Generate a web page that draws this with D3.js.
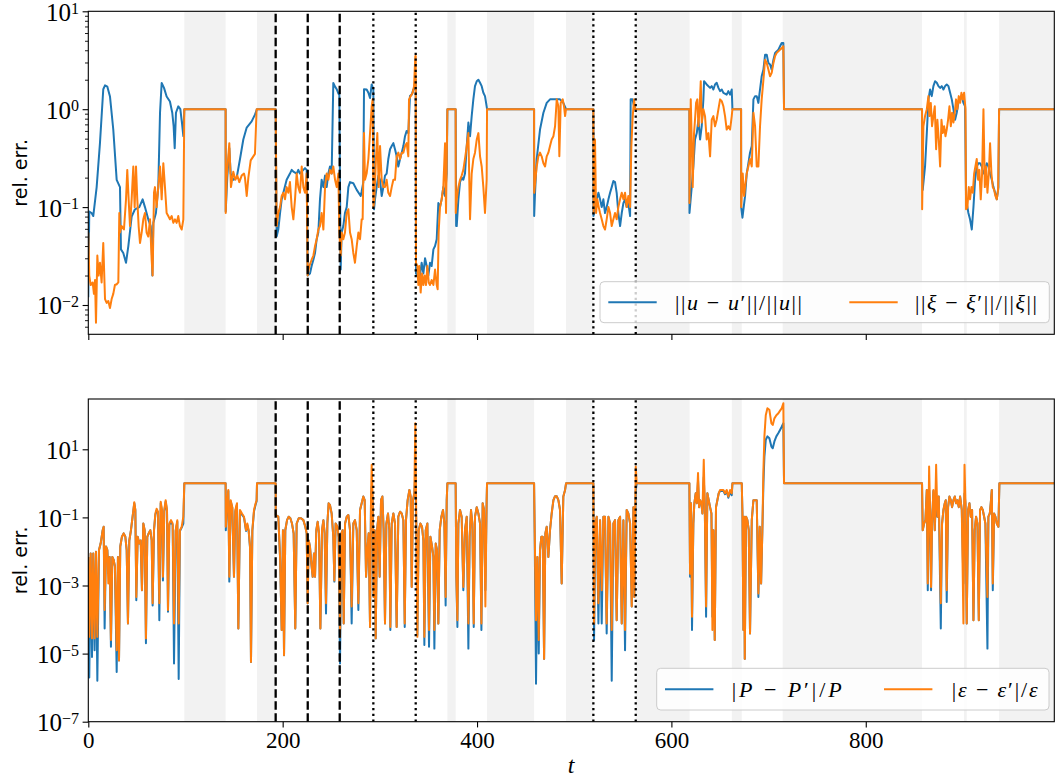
<!DOCTYPE html>
<html>
<head>
<meta charset="utf-8">
<script src="https://cdn.jsdelivr.net/npm/d3@7"></script>
<style>
  body { margin: 0; background: #fff; }
  svg { display: block; }
</style>
</head>
<body>
<script>
// ---- data ----
var shadedSpans = [[98.8,141.3],[173.6,192.8],[369.5,378.0],[410.3,458.7],[491.6,519.7],[563.3,618.7],[662.2,672.4],[714.5,857.9],[901.1,903.9],[937.2,994]];
var dashedT = [192.8, 225.8, 258.7];
var dottedT = [293.3, 336.9, 519.7, 563.3];
var xTicks = [0, 200, 400, 600, 800];
var topExps = [-2, -1, 0, 1];
var bottomExps = [-7, -5, -3, -1, 1];

// ||u - u'|| / ||u||   [t, value]
var uErr = [[0,0.012],[1,0.09],[3.4,0.087],[5.1,0.081],[8.6,0.16],[12,0.45],[15.4,1.6],[17.2,1.75],[19.6,1.7],[22.3,1.35],[25.7,0.62],[29.2,0.19],[32.6,0.16],[33.6,0.037],[36,0.034],[38.8,0.027],[41.2,0.04],[44.6,0.08],[48,0.095],[52.5,0.1],[55.9,0.12],[58.3,0.1],[61.7,0.075],[64.2,0.064],[65.2,0.047],[65.9,0.02],[66.9,0.069],[69.6,0.087],[72,0.16],[73.8,0.92],[75.5,1.85],[77.9,1.65],[80.6,1.35],[84,1.2],[86.4,0.92],[87.8,0.67],[88.9,0.4],[90.2,0.92],[92.6,1.07],[94.7,1.0],[96.4,0.72],[97.8,0.53],[98.8,1],[141.3,1],
[141.4,0.09],[143,0.2],[145.1,0.4],[146.5,0.22],[149.2,0.19],[152.7,0.2],[156.1,0.31],[159.5,0.49],[163,0.65],[168.1,0.75],[171.5,0.88],[173.6,1],[192.8,1],
[193.8,0.05],[195.5,0.059],[197.3,0.087],[199,0.12],[200.7,0.14],[204.1,0.19],[207.5,0.22],[209.3,0.24],[211,0.23],[214.4,0.22],[216.1,0.24],[217.8,0.22],[219.6,0.23],[221.3,0.24],[223,0.25],[224.7,0.24],[225.7,0.02],[228.1,0.021],[229.8,0.025],[231.6,0.029],[233.3,0.034],[235,0.047],[236.7,0.055],[238.4,0.12],[240.1,0.19],[241.9,0.16],[243.6,0.21],[245.3,0.16],[247,0.22],[248.7,0.26],[250.4,0.22],[252.1,1.85],[253.9,1.7],[255.6,1.6],[257.3,1.45],[258.3,1.4],[259.7,0.023],[260.7,0.055],[262.4,0.064],[264.1,0.087],[265.9,0.1],[267.6,0.16],[269.3,0.18],[272.7,0.175],[276.2,0.15],[280.3,0.13],[281.3,0.145],[283,0.18],[283.7,1.6],[286.4,1.59],[288.2,1.47],[289.9,1.3],[291.6,1.79],[293.3,1.6],[294,0.095],[295,0.12],[296.7,0.16],[298.5,0.21],[300.2,0.19],[301.9,0.13],[303.6,0.16],[305.3,0.21],[307,0.22],[308.7,0.31],[310.5,0.39],[312.2,0.42],[313.9,0.45],[315.6,0.39],[317.3,0.33],[319,0.26],[320.8,0.31],[322.5,0.36],[324.2,0.42],[325.9,0.53],[327.6,0.6],[329.3,0.57],[331,1.36],[332.8,1.41],[334.5,1.59],[335.2,1.6],[336.9,2.0],[337.2,0.021],[338.6,0.02],[341.3,0.02],[343,0.027],[344.8,0.021],[346.5,0.03],[348.2,0.025],[349.9,0.02],[351.6,0.027],[353.3,0.025],[355.1,0.037],[356.8,0.04],[358.5,0.047],[360.2,0.11],[361.9,0.1],[363.6,0.12],[365.3,0.16],[367.1,0.13],[368.8,0.22],[369.5,1],[378,1],
[378.5,0.064],[379.1,0.064],[380.8,0.12],[382.5,0.18],[384.2,0.2],[385.9,0.19],[387.6,0.22],[389.4,0.42],[391.1,0.73],[392.8,0.53],[394.5,0.85],[396.2,1.26],[397.9,1.72],[399.7,1.93],[401.4,2.0],[403.1,1.86],[404.8,1.72],[406.5,1.47],[408.2,1.36],[409.9,1.07],[410.3,1],[458.7,1],
[458.8,0.081],[459.7,0.14],[461.4,0.31],[464.8,0.62],[468.3,0.92],[471.7,1.16],[475.1,1.26],[478.6,1.26],[482,1.26],[485.4,1.26],[488.8,1.16],[491.6,1],[519.7,1],
[519.8,0.081],[521.4,0.095],[523.2,0.12],[524.9,0.14],[526.6,0.12],[528.3,0.1],[530,0.12],[531.7,0.087],[533.4,0.1],[535.2,0.12],[536.9,0.14],[538.6,0.16],[540.3,0.185],[542,0.18],[543.7,0.14],[545.4,0.087],[547.2,0.064],[548.9,0.087],[550.6,0.11],[552.3,0.12],[554,0.1],[555.7,0.11],[557.5,0.081],[558.1,1.26],[559.9,1.26],[561.6,1.07],[563.3,1],[618.5,1],
[618.6,0.087],[620.9,0.16],[622.6,0.26],[624.3,0.49],[626.1,0.57],[627.8,0.78],[629.5,0.49],[631.2,0.67],[632.9,1.26],[633.6,1.93],[636.3,1.79],[639.8,1.65],[641.5,1.72],[643.2,1.59],[644.9,1.79],[646.6,1.86],[648.4,1.65],[650.1,1.53],[651.8,1.59],[653.5,1.47],[656.9,1.41],[658.6,1.53],[660.4,1.41],[662.1,1.59],[662.8,1],[671.7,1],
[671.8,0.1],[673.1,0.078],[675.8,0.13],[677.5,0.22],[679.2,0.28],[680.9,0.36],[682.7,0.42],[684.4,1.26],[686.1,1.36],[687.8,1.36],[689.5,1.16],[691.2,1.59],[692.9,2.17],[694.7,2.54],[696.4,3.6],[698.1,3.6],[699.8,2.97],[701.5,2.86],[703.2,2.54],[705,3.2],[706.7,3.76],[708.4,3.9],[710.1,4.06],[711.8,4.4],[713.5,4.75],[715.2,4.75],[715.9,1],[857.9,1],
[858.6,0.15],[861,0.26],[862.8,0.57],[864.5,1.26],[866.2,1.59],[867.9,1.36],[869.6,1.72],[871.3,1.93],[873.1,1.86],[874.8,1.72],[876.5,1.65],[878.2,1.72],[879.9,1.59],[881.6,1.72],[883.3,1.79],[885.1,1.72],[886.8,1.47],[888.5,1.26],[890.2,1.0],[891.9,0.78],[893.6,0.92],[895.3,1.16],[897.1,1.26],[898.8,1.36],[900.5,1.16],[902.2,1.07],[903.2,0.12],[905.6,0.087],[907.3,0.075],[909.1,0.059],[910.8,0.1],[912.5,0.19],[914.2,0.26],[915.9,0.28],[917.6,0.28],[919.4,0.26],[921.1,0.22],[922.8,0.24],[924.5,0.28],[926.2,0.26],[927.9,0.22],[929.7,0.19],[931.4,0.16],[933.1,0.14],[934.8,0.12],[936.5,0.16],[937.2,1],[994,1]];

// ||xi - xi'|| / ||xi||   [t, value]
var xiErr = [[0,0.055],[1,0.02],[2.4,0.016],[4.5,0.017],[5.8,0.013],[6.9,0.018],[7.9,0.0066],[9.3,0.032],[10.6,0.02],[12,0.027],[13.7,0.017],[15.4,0.043],[17.2,0.0115],[18.9,0.0105],[20.6,0.011],[22.3,0.0093],[24,0.0115],[25.7,0.013],[27.4,0.016],[29.2,0.0163],[30.9,0.017],[31.9,0.087],[32.6,0.055],[34.3,0.064],[36.7,0.059],[38.8,0.12],[40.1,0.24],[41.5,0.12],[42.9,0.064],[44.6,0.12],[46.3,0.26],[47.7,0.1],[49.1,0.26],[50.4,0.12],[51.8,0.064],[53.2,0.043],[54.9,0.055],[56.6,0.075],[58.3,0.087],[60,0.055],[61.7,0.05],[63.5,0.075],[65.2,0.029],[66.2,0.02],[67.6,0.14],[68.6,0.16],[70.3,0.1],[72,0.16],[73.8,0.26],[75.5,0.12],[77.2,0.28],[78.9,0.16],[80.6,0.087],[82.3,0.081],[84,0.075],[85.8,0.081],[87.5,0.069],[89.2,0.075],[90.9,0.069],[92.6,0.081],[94.3,0.064],[96.1,0.059],[97.8,0.075],[98.8,1],[141.3,1],
[141.4,0.087],[142.4,0.2],[145.1,0.45],[146.8,0.16],[149.2,0.23],[151.3,0.19],[153.3,0.21],[155.4,0.18],[157.8,0.21],[160.2,0.22],[161.2,0.2],[163,0.13],[164.7,0.2],[167.1,0.3],[169.8,0.33],[171.5,0.35],[173.2,1],[192.8,1],
[193.8,0.064],[195.5,0.087],[197.3,0.1],[199,0.13],[200.7,0.14],[202.4,0.12],[204.1,0.16],[205.8,0.14],[207.5,0.18],[209.3,0.1],[211,0.075],[212.7,0.12],[214.4,0.22],[216.1,0.16],[217.8,0.14],[219.6,0.26],[221.3,0.16],[223,0.14],[224.7,0.22],[225.7,0.02],[227.4,0.025],[229.8,0.029],[231.6,0.032],[233.3,0.04],[235,0.047],[236.7,0.059],[238.4,0.064],[240.1,0.087],[241.9,0.059],[243.6,0.16],[245.3,0.22],[247,0.19],[248.7,0.24],[250.4,0.22],[252.1,0.26],[253.9,0.19],[255.6,0.16],[257.3,0.22],[258.3,0.055],[259.7,0.032],[260.7,0.055],[262.4,0.047],[264.1,0.055],[265.9,0.087],[267.6,0.095],[269.3,0.055],[271,0.047],[272.7,0.034],[274.4,0.027],[276.2,0.04],[277.9,0.055],[279.6,0.047],[281.3,0.075],[282.3,0.075],[283.7,0.57],[284.7,0.19],[286.4,0.22],[288.2,0.31],[289.9,0.57],[291.6,1.07],[292.6,1.26],[293.4,0.1],[294.3,0.12],[296,0.31],[297.4,0.57],[298.8,0.16],[300.2,0.42],[301.9,0.19],[303.6,0.16],[305.3,0.16],[307,0.19],[308.7,0.14],[310.5,0.13],[312.2,0.16],[313.9,0.19],[315.6,0.19],[317.3,0.33],[319,0.36],[320.8,0.31],[322.5,0.36],[324.2,0.36],[325.9,0.42],[327.6,0.45],[329.3,0.33],[330,1.26],[331.7,1.36],[333.8,1.47],[335.2,1.72],[336.5,3.5],[336.9,3.5],[337.2,0.027],[338.6,0.025],[339.6,0.016],[340.6,0.025],[342,0.0134],[343.4,0.021],[344.8,0.016],[346.1,0.02],[347.5,0.016],[348.9,0.025],[350.3,0.017],[351.6,0.016],[353.3,0.018],[355.1,0.016],[356.8,0.023],[358.5,0.016],[359.5,0.0145],[360.5,0.055],[361.9,0.1],[363.6,0.12],[365.3,0.16],[367.1,0.45],[368.1,0.087],[369.5,1],[378,1],
[378.1,0.087],[379.1,0.12],[380.8,0.16],[382.5,0.19],[384.2,0.21],[385.9,0.24],[387.6,0.31],[389.4,0.42],[391.1,0.57],[392.8,0.075],[394.5,0.22],[396.2,0.31],[397.9,0.36],[399.7,0.49],[401.4,0.57],[403.1,0.33],[404.8,0.26],[406.5,0.16],[408.2,0.087],[409.9,0.19],[410.3,1],[458.7,1],
[458.8,0.14],[461.4,0.26],[463.1,0.33],[464.8,0.36],[466.5,0.33],[468.3,0.28],[470,0.26],[471.7,0.33],[473.4,0.36],[475.1,0.42],[476.8,0.49],[478.6,0.53],[480.3,0.67],[482,1.26],[483.7,1.07],[484.7,0.33],[486.1,1.16],[488.2,1.26],[489.5,1.07],[490.6,0.85],[491.6,1],[519.7,1],
[520,0.087],[521.4,0.49],[522.5,0.087],[523.8,0.12],[525.2,0.1],[526.6,0.087],[528.3,0.075],[530,0.064],[531.7,0.059],[533.4,0.075],[535.2,0.1],[536.9,0.087],[538.6,0.064],[540.3,0.075],[542,0.087],[543.7,0.075],[545.4,0.1],[547.2,0.12],[548.9,0.14],[550.6,0.12],[552.3,0.14],[554,0.1],[555.7,0.13],[557.5,0.1],[558.8,0.42],[560.2,0.85],[561.6,1.26],[562.6,1],[618.5,1],
[618.6,0.11],[619.9,1.26],[620.9,0.49],[621.9,0.16],[623.3,0.57],[624.3,0.78],[625.4,1.16],[626.7,1.26],[627.8,0.67],[628.8,0.92],[630.2,1.93],[631.2,0.73],[632.9,1.0],[634.6,0.85],[636.3,0.49],[638.1,0.57],[639.8,0.33],[641.5,0.78],[643.2,0.85],[644.9,0.67],[646.6,0.78],[648.4,1.0],[650.1,1.26],[651.8,1.21],[653.5,1.07],[655.2,0.85],[656.9,0.62],[658.6,0.67],[660.4,0.62],[662.1,0.85],[662.8,1],[671.7,1],
[671.8,0.1],[673.4,0.22],[674.8,0.13],[675.8,0.16],[677.5,0.22],[679.2,0.26],[680.9,0.31],[682.7,0.26],[684.4,0.92],[686.1,0.67],[687.8,0.26],[689.5,0.26],[691.2,0.67],[692.9,1.26],[694.7,2.0],[696.4,3.2],[698.1,2.97],[699.8,2.54],[701.5,2.17],[703.2,2.35],[705,2.97],[706.7,3.5],[708.4,3.76],[710.1,3.9],[711.8,4.06],[713.5,4.2],[715.2,4.4],[715.9,1],[857.9,1],
[858,0.095],[859.3,0.67],[861,0.85],[862.8,1.0],[864.5,1.36],[865.5,0.85],[866.9,1.16],[868.2,0.67],[869.6,0.85],[871,1.07],[872.4,0.39],[873.7,0.78],[875.1,0.49],[876.5,0.26],[877.9,0.78],[879.2,0.57],[880.6,0.67],[882,0.53],[883.3,0.62],[884.7,0.78],[886.1,1.07],[887.5,0.67],[888.8,0.92],[890.2,0.73],[891.6,0.92],[892.9,1.26],[894.3,1.0],[895.7,1.36],[897.1,1.16],[898.4,1.47],[899.8,1.26],[901.2,1.47],[902.6,1.0],[903.2,0.095],[904.6,0.1],[906,0.16],[907.3,0.12],[908.7,0.16],[910.1,0.14],[911.5,0.22],[912.8,0.26],[914.2,0.31],[915.6,0.19],[916.9,0.24],[918.3,0.12],[919.7,0.22],[921.1,1.0],[922.5,0.16],[923.8,0.26],[925.2,0.14],[926.6,0.22],[927.9,0.45],[929.3,0.22],[930.7,0.16],[932.1,0.15],[933.4,0.13],[934.8,0.12],[936.2,0.15],[937.2,1],[994,1]];

// |P - P'| / P   [t, value]
var pErr = [[0,0.0069],[1.0,2e-6],[2.4,0.0087],[3.8,8e-6],[5.1,0.0087],[6.5,1.26e-5],[7.9,0.0098],[9.3,1.6e-6],[11.0,0.011],[12.7,0.017],[14.8,0.042],[15.8,0.053],[16.8,5.5e-5],[18.2,0.014],[19.6,0.011],[20.6,0.0028],[22.0,0.0069],[23.3,1.6e-5],[24.7,0.0069],[26.1,0.0056],[27.4,0.0036],[29.2,2.9e-6],[30.5,0.0069],[31.6,6.3e-6],[32.9,0.014],[34.6,0.027],[36.4,0.034],[38.1,0.027],[39.5,0.011],[40.8,7.6e-5],[42.2,0.021],[43.9,0.042],[45.6,0.105],[47.3,0.26],[48.4,0.165],[49.4,3.7e-4],[50.8,0.027],[52.5,0.017],[53.9,0.021],[55.2,7.3e-4],[56.6,0.066],[58.0,0.042],[59.3,2e-5],[60.7,0.027],[62.1,0.034],[63.8,0.042],[65.2,0.021],[66.2,2.6e-4],[67.6,0.042],[69.0,0.12],[70.3,0.16],[71.7,0.14],[73.1,9.5e-5],[74.5,0.26],[75.8,0.15],[76.8,0.0014],[78.2,0.15],[79.6,0.29],[81.0,0.15],[82.0,1.7e-4],[83.4,0.06],[85.1,0.075],[86.8,0.06],[88.2,5.1e-6],[89.9,0.04],[91.6,0.075],[93.0,1.8e-6],[94.3,0.04],[96.1,0.05],[97.8,0.066],[98.8,1],[141.3,1],
[141.5,0.042],[142.4,0.15],[144.1,0.6],[145.1,0.0013],[146.5,0.3],[148.2,0.19],[149.9,0.0018],[151.3,0.15],[153.0,0.24],[154.4,5.5e-5],[156.1,0.15],[158.1,0.12],[160.2,0.1],[162.3,0.04],[163.6,0.06],[165.0,0.04],[166.4,0.013],[167.4,5.7e-6],[168.8,0.04],[170.5,0.15],[172.2,0.24],[173.2,0.3],[173.6,1],[192.8,1],
[192.9,0.117],[195.5,0.105],[197.3,0.0069],[199.0,4.9e-5],[200.3,0.042],[201.4,9e-6],[202.7,0.042],[204.5,0.083],[206.2,0.105],[207.9,0.094],[209.6,0.066],[211.3,0.034],[213.0,5.5e-5],[214.4,0.066],[216.5,0.094],[218.9,0.094],[221.3,0.083],[223.3,0.053],[224.7,0.034],[225.7,3e-4],[226.8,0.021],[228.1,0.014],[229.5,0.0044],[230.9,0.0018],[232.2,0.0087],[233.3,0.0018],[234.6,0.042],[236.0,0.074],[237.4,0.034],[238.8,5.5e-5],[240.5,0.042],[241.9,0.083],[243.2,0.034],[244.6,1.5e-4],[246.0,0.066],[247.3,0.26],[248.7,0.23],[250.4,0.13],[252.1,0.027],[253.2,0.0013],[254.5,0.066],[256.3,0.053],[257.6,0.027],[259.0,5.1e-6],[260.4,0.034],[261.7,0.042],[262.8,7.6e-5],[264.2,0.066],[265.9,0.105],[267.6,0.117],[269.3,0.042],[271.0,7.6e-5],[272.7,0.066],[274.4,0.083],[276.2,0.042],[277.9,1.9e-4],[279.6,0.165],[281.3,0.26],[283.0,0.41],[284.4,0.32],[285.8,0.0018],[287.1,0.011],[288.5,0.034],[289.9,6e-5],[290.9,0.32],[291.6,0.8],[292.6,0.32],[293.6,4.6e-4],[294.7,0.042],[295.7,2.8e-5],[297.1,0.042],[298.5,0.105],[299.8,0.0018],[301.2,0.32],[302.6,0.41],[303.9,0.042],[305.3,7.6e-5],[306.7,0.066],[308.4,0.13],[309.8,0.042],[310.8,4.9e-5],[312.2,0.066],[313.9,0.13],[315.6,0.066],[317.3,6e-5],[319.0,0.105],[320.8,0.147],[322.5,0.13],[324.2,0.083],[325.6,6e-5],[326.9,0.083],[328.6,0.32],[330.4,0.64],[331.7,0.41],[332.8,9.1e-4],[334.1,0.32],[335.5,0.51],[336.5,2.0],[337.6,0.042],[338.6,3.5e-5],[340.0,0.042],[341.7,0.066],[343.4,0.053],[344.8,0.021],[345.8,1.8e-5],[347.2,0.042],[348.9,0.066],[350.6,1.6e-5],[352.0,0.027],[353.7,0.014],[355.1,0.0069],[356.1,1.4e-5],[357.5,0.017],[358.8,0.011],[360.2,7.6e-5],[361.6,0.042],[363.3,0.105],[365.0,0.165],[366.4,0.066],[367.7,2.6e-4],[368.8,0.32],[369.5,1],[378.0,1],
[378.7,0.0018],[379.8,6e-5],[380.8,0.066],[382.5,0.165],[384.2,0.105],[385.9,7.3e-4],[387.6,0.042],[389.4,0.105],[391.1,1.4e-5],[392.4,0.027],[393.8,0.165],[395.2,0.066],[396.6,6e-5],[397.9,0.105],[399.7,0.2],[401.4,0.13],[403.1,0.066],[404.5,4.9e-5],[405.8,0.26],[407.2,0.165],[408.6,7.3e-4],[409.9,0.32],[410.3,1],[458.7,1],
[459.3,0.034],[460.7,1.3e-6],[462.1,0.0069],[463.5,1e-5],[464.8,0.011],[466.2,0.027],[467.6,0.027],[469.0,7e-6],[470.3,0.034],[471.7,0.053],[473.4,0.0069],[475.1,0.042],[476.8,0.13],[478.6,0.32],[480.3,0.42],[482.0,0.42],[483.7,0.32],[485.4,0.165],[487.1,0.00115],[488.8,0.41],[490.6,0.64],[491.6,1],[519.7,1],
[520.4,2.5e-5],[521.8,0.066],[523.2,0.105],[524.9,7.6e-5],[526.6,0.083],[528.3,7.6e-5],[530.0,0.105],[531.7,0.105],[533.4,3.9e-5],[535.2,0.105],[536.9,0.066],[538.6,1.6e-6],[540.3,0.066],[542.0,0.083],[543.7,9.5e-5],[545.4,0.083],[547.2,0.105],[548.9,7.6e-5],[550.6,0.083],[552.3,1.26e-5],[554.0,0.165],[555.7,0.13],[557.5,0.066],[559.2,2.4e-4],[560.9,0.2],[561.9,4.6e-4],[563.3,0.6],[564.3,1],[618.5,1],
[619.2,0.0018],[620.2,0.26],[621.2,4.9e-5],[622.6,0.066],[623.6,0.26],[625.0,0.51],[626.1,0.26],[627.4,1.2],[628.5,0.2],[629.5,0.32],[630.9,0.26],[631.9,0.13],[633.3,1.5],[634.3,0.26],[635.7,1.2e-4],[637.0,0.51],[638.4,0.32],[639.8,0.2],[641.2,0.13],[642.2,1.2e-4],[643.2,0.042],[644.6,2.5e-5],[645.9,0.2],[647.3,0.32],[648.7,0.51],[650.1,0.6],[651.8,0.6],[653.5,0.6],[655.2,0.48],[656.9,0.6],[658.6,0.38],[660.4,0.55],[662.1,0.45],[662.8,1],[672.4,1],
[673.1,0.13],[674.1,4.9e-5],[674.8,0.105],[675.5,7e-6],[676.8,0.105],[678.2,0.083],[679.6,0.042],[680.9,3.9e-5],[682.7,0.083],[684.4,0.32],[686.1,0.32],[687.8,0.32],[689.5,4.6e-4],[690.9,0.053],[692.3,0.00115],[693.6,0.042],[694.7,1.0],[695.7,6.1],[697.1,19],[698.8,24],[700.8,21],[702.9,12],[704.3,10.7],[706.0,17],[708.0,24],[710.1,30],[711.8,37],[713.5,46],[715.2,58],[715.9,1],[857.9,1],
[858.6,0.042],[860.0,0.066],[861.4,0.083],[862.8,0.64],[863.8,7.3e-4],[865.2,0.64],[866.2,0.165],[867.2,7.3e-4],[868.2,0.066],[869.6,0.6],[871.0,0.042],[872.4,0.5],[873.7,0.105],[875.1,0.41],[877.2,5.5e-5],[878.5,0.066],[879.9,0.165],[881.3,0.26],[882.3,0.32],[883.3,3.3e-4],[884.7,0.2],[886.1,0.41],[887.5,0.32],[888.8,0.2],[890.2,0.32],[891.6,0.41],[892.9,0.26],[894.3,0.32],[895.7,0.2],[897.1,0.41],[898.8,0.165],[900.5,0.00115],[901.6,0.5],[902.6,0.26],[903.9,7.6e-5],[905.3,0.165],[906.7,0.26],[908.0,0.105],[909.4,0.165],[910.8,9.5e-5],[912.1,0.042],[913.5,0.105],[914.9,0.066],[916.3,9.5e-5],[917.6,0.165],[919.0,0.2],[920.4,0.165],[921.8,0.105],[923.1,0.066],[925.2,1.4e-5],[926.2,0.105],[927.6,0.13],[928.6,0.26],[929.7,0.64],[930.7,7.3e-4],[932.1,0.13],[933.4,0.105],[934.8,0.066],[936.5,0.053],[937.5,1],[994,1]];

// |eps - eps'| / eps   [t, value]
var epsErr = [[0,0.0069],[1.0,3.1e-5],[2.4,0.0087],[3.8,2.8e-5],[5.1,0.0087],[6.5,2.8e-5],[7.9,0.0098],[9.3,3.1e-5],[11.0,0.011],[12.7,0.017],[14.8,0.042],[15.8,0.053],[16.8,1.9e-4],[18.2,0.014],[19.6,0.011],[20.6,0.00115],[22.0,0.0069],[23.3,2.5e-5],[24.7,0.0069],[26.1,0.0056],[27.4,0.0036],[29.2,1.26e-5],[30.5,0.0069],[31.6,6.3e-6],[32.9,0.014],[34.6,0.027],[36.4,0.034],[38.1,0.027],[39.5,0.011],[40.8,7.6e-5],[42.2,0.021],[43.9,0.042],[45.6,0.105],[47.3,0.28],[48.4,0.165],[49.4,4.6e-4],[50.8,0.027],[52.5,0.017],[53.9,0.021],[55.2,7.3e-4],[56.6,0.066],[58.0,0.042],[59.3,2.8e-5],[60.7,0.027],[62.1,0.034],[63.8,0.042],[65.2,0.021],[66.2,3e-4],[67.6,0.042],[69.0,0.13],[70.3,0.18],[71.7,0.147],[73.1,3e-4],[74.5,0.29],[75.8,0.165],[76.8,0.0018],[78.2,0.165],[79.6,0.32],[81.0,0.165],[82.0,1.9e-4],[83.4,0.066],[85.1,0.083],[86.8,0.066],[88.2,7.6e-5],[89.9,0.042],[91.6,0.083],[93.0,7.6e-5],[94.3,0.042],[96.1,0.053],[97.8,0.105],[98.8,1],[141.3,1],
[141.5,0.053],[142.4,0.165],[144.1,0.64],[145.1,0.0018],[146.5,0.32],[148.2,0.2],[149.9,0.0018],[151.3,0.165],[153.0,0.26],[154.4,5.5e-5],[156.1,0.165],[158.1,0.13],[160.2,0.105],[162.3,0.042],[163.6,0.066],[165.0,0.042],[166.4,0.014],[167.4,5.7e-6],[168.8,0.042],[170.5,0.165],[172.2,0.26],[173.2,0.32],[173.6,1],[192.8,1],
[192.9,0.117],[195.5,0.105],[197.3,0.0069],[199.0,4.9e-5],[200.3,0.042],[201.4,9e-6],[202.7,0.042],[204.5,0.083],[206.2,0.105],[207.9,0.094],[209.6,0.066],[211.3,0.034],[213.0,5.5e-5],[214.4,0.066],[216.5,0.094],[218.9,0.094],[221.3,0.083],[223.3,0.053],[224.7,0.034],[225.7,3e-4],[226.8,0.021],[228.1,0.014],[229.5,0.0044],[230.9,0.0018],[232.2,0.0087],[233.3,0.0018],[234.6,0.042],[236.0,0.074],[237.4,0.034],[238.8,5.5e-5],[240.5,0.042],[241.9,0.083],[243.2,0.034],[244.6,3e-4],[246.0,0.066],[247.3,0.26],[248.7,0.23],[250.4,0.13],[252.1,0.027],[253.2,0.0014],[254.5,0.066],[256.3,0.053],[257.6,0.027],[259.0,3.1e-5],[260.4,0.034],[261.7,0.042],[262.8,7.6e-5],[264.2,0.066],[265.9,0.105],[267.6,0.117],[269.3,0.042],[271.0,2.4e-4],[272.7,0.066],[274.4,0.083],[276.2,0.042],[277.9,3e-4],[279.6,0.165],[281.3,0.26],[283.0,0.41],[284.4,0.32],[285.8,0.0018],[287.1,0.011],[288.5,0.034],[289.9,6e-5],[290.9,0.32],[291.6,3.5],[292.6,0.32],[293.6,4.6e-4],[294.7,0.042],[295.7,2.8e-5],[297.1,0.042],[298.5,0.105],[299.8,0.0018],[301.2,0.32],[302.6,0.41],[303.9,0.042],[305.3,7.6e-5],[306.7,0.066],[308.4,0.13],[309.8,0.042],[310.8,6e-5],[312.2,0.066],[313.9,0.13],[315.6,0.066],[317.3,6e-5],[319.0,0.105],[320.8,0.147],[322.5,0.13],[324.2,0.083],[325.6,7.6e-5],[326.9,0.083],[328.6,0.32],[330.4,0.64],[331.7,0.41],[332.8,9.1e-4],[334.1,0.32],[335.5,0.51],[336.5,58],[337.6,0.042],[338.6,3.1e-5],[340.0,0.042],[341.7,0.066],[343.4,0.053],[344.8,0.021],[345.8,3.1e-5],[347.2,0.042],[348.9,0.066],[350.6,4.9e-5],[352.0,0.027],[353.7,0.014],[355.1,0.0069],[356.1,4.9e-5],[357.5,0.017],[358.8,0.011],[360.2,7.6e-5],[361.6,0.042],[363.3,0.105],[365.0,0.165],[366.4,0.066],[367.7,4.6e-4],[368.8,0.32],[369.5,1],[378.0,1],
[378.7,0.0018],[379.8,9.5e-5],[380.8,0.066],[382.5,0.165],[384.2,0.105],[385.9,9.1e-4],[387.6,0.042],[389.4,0.105],[391.1,7.6e-5],[392.4,0.027],[393.8,0.165],[395.2,0.066],[396.6,7.6e-5],[397.9,0.105],[399.7,0.2],[401.4,0.13],[403.1,0.066],[404.5,7.6e-5],[405.8,0.26],[407.2,0.165],[408.6,2.4e-4],[409.9,0.32],[410.3,1],[458.7,1],
[459.3,0.042],[460.7,9.5e-5],[462.1,0.0069],[463.5,2.5e-5],[464.8,0.011],[466.2,0.027],[467.6,0.027],[469.0,7e-6],[470.3,0.034],[471.7,0.053],[473.4,0.0069],[475.1,0.042],[476.8,0.13],[478.6,0.32],[480.3,0.42],[482.0,0.42],[483.7,0.32],[485.4,0.165],[487.1,0.00115],[488.8,0.41],[490.6,0.64],[491.6,1],[519.7,1],
[520.4,7.6e-5],[521.8,0.066],[523.2,0.105],[524.9,3e-4],[526.6,0.083],[528.3,7.3e-4],[530.0,0.105],[531.7,0.105],[533.4,7.6e-5],[535.2,0.105],[536.9,0.066],[538.6,4.9e-5],[540.3,0.066],[542.0,0.083],[543.7,9.5e-5],[545.4,0.083],[547.2,0.105],[548.9,7.6e-5],[550.6,0.083],[552.3,4.9e-5],[554.0,0.165],[555.7,0.13],[557.5,0.066],[559.2,2.4e-4],[560.9,0.2],[561.9,4.6e-4],[563.3,3.1],[564.3,1],[618.5,1],
[619.2,0.0022],[620.2,0.26],[621.2,1.2e-4],[622.6,0.066],[623.6,0.26],[625.0,0.51],[626.1,0.26],[627.4,2.0],[628.5,0.2],[629.5,0.32],[630.9,0.26],[631.9,0.13],[633.3,4.9],[634.3,0.26],[635.7,2.4e-4],[637.0,0.51],[638.4,0.32],[639.8,0.2],[641.2,0.13],[642.2,4.9e-5],[643.2,0.042],[644.6,2.5e-5],[645.9,0.2],[647.3,0.32],[648.7,0.51],[650.1,0.64],[651.8,0.64],[653.5,0.64],[655.2,0.51],[656.9,0.64],[658.6,0.41],[660.4,0.64],[662.1,0.51],[662.8,1],[672.4,1],
[673.1,0.13],[674.1,4.9e-5],[674.8,0.105],[675.5,7e-6],[676.8,0.105],[678.2,0.083],[679.6,0.042],[680.9,3.9e-5],[682.7,0.083],[684.4,0.32],[686.1,0.32],[687.8,0.32],[689.5,5.8e-4],[690.9,0.053],[692.3,0.00115],[693.6,0.042],[694.7,2.5],[695.7,24],[697.1,100],[698.8,160],[700.8,145],[702.9,58],[704.3,52],[706.0,81],[708.0,100],[710.1,115],[711.8,137],[713.5,160],[715.2,225],[715.9,1],[857.9,1],
[858.6,0.042],[860.0,0.066],[861.4,0.083],[862.8,0.64],[863.8,0.00115],[865.2,3.1],[866.2,0.165],[867.2,9.1e-4],[868.2,0.066],[869.6,0.64],[871.0,0.042],[872.4,3.5],[873.7,0.105],[875.1,0.41],[877.2,3e-4],[878.5,0.066],[879.9,0.165],[881.3,0.26],[882.3,0.32],[883.3,7.3e-4],[884.7,0.2],[886.1,0.41],[887.5,0.32],[888.8,0.2],[890.2,0.32],[891.6,0.41],[892.9,0.26],[894.3,0.32],[895.7,0.2],[897.1,0.41],[898.8,0.165],[900.5,7.6e-5],[901.6,3.5],[902.6,0.26],[903.9,7.6e-5],[905.3,0.165],[906.7,0.26],[908.0,0.105],[909.4,0.165],[910.8,9.5e-5],[912.1,0.042],[913.5,0.105],[914.9,0.066],[916.3,9.5e-5],[917.6,0.165],[919.0,0.2],[920.4,0.165],[921.8,0.105],[923.1,0.066],[925.2,4.6e-4],[926.2,0.105],[927.6,0.13],[928.6,0.26],[929.7,0.64],[930.7,0.00115],[932.1,0.13],[933.4,0.105],[934.8,0.066],[936.5,0.053],[937.5,1],[994,1]];

// ---- drawing ----
var W = 1055, H = 781;
var serif = "'Liberation Serif', 'DejaVu Serif', serif";
var sans = "'DejaVu Sans', sans-serif";
var blue = '#1f77b4', orange = '#ff7f0e';

var svg = d3.select('body').append('svg')
    .attr('width', W)
    .attr('height', H)
    .attr('viewBox', '0 0 ' + W + ' ' + H);

var x = d3.scaleLinear().domain([0, 994]).range([88.3, 1054.3]);

function supText(sel, exp) {
    sel.append('tspan').text('10');
    sel.append('tspan')
        .attr('dy', -7.3)
        .attr('font-size', 16)
        .text(exp < 0 ? '\u2212' + Math.abs(exp) : String(exp));
}

function mathText(sel, parts) {
    parts.forEach(function(p) {
        sel.append('tspan')
            .attr('font-style', p[1] ? 'italic' : 'normal')
            .text(p[0]);
    });
}

function drawPanel(cfg) {
    var top = cfg.top, bottom = cfg.bottom;
    var left = x.range()[0], right = x.range()[1];
    var y = d3.scaleLog().domain(cfg.domain).range([bottom, top]);
    var g = svg.append('g');

    svg.append('clipPath').attr('id', cfg.id + '-clip')
        .append('rect')
        .attr('x', left).attr('y', top)
        .attr('width', right - left).attr('height', bottom - top);

    var plot = g.append('g').attr('clip-path', 'url(#' + cfg.id + '-clip)');

    // shaded intervals
    plot.selectAll('rect.span').data(shadedSpans).enter().append('rect')
        .attr('class', 'span')
        .attr('x', function(d) { return x(d[0]); })
        .attr('width', function(d) { return x(d[1]) - x(d[0]); })
        .attr('y', top)
        .attr('height', bottom - top)
        .attr('fill', '#f2f2f2');

    var line = d3.line()
        .x(function(d) { return x(d[0]); })
        .y(function(d) { return y(d[1]); });

    [[cfg.first, blue], [cfg.second, orange]].forEach(function(s) {
        plot.append('path')
            .datum(s[0])
            .attr('d', line)
            .attr('fill', 'none')
            .attr('stroke', s[1])
            .attr('stroke-width', 2)
            .attr('stroke-linejoin', 'round');
    });

    // vertical markers
    plot.selectAll('line.dash').data(dashedT).enter().append('line')
        .attr('x1', function(d) { return x(d); }).attr('x2', function(d) { return x(d); })
        .attr('y1', bottom).attr('y2', top)
        .attr('stroke', '#000').attr('stroke-width', 2.3)
        .attr('stroke-dasharray', '8.5,3.5');
    plot.selectAll('line.dot').data(dottedT).enter().append('line')
        .attr('x1', function(d) { return x(d); }).attr('x2', function(d) { return x(d); })
        .attr('y1', bottom).attr('y2', top)
        .attr('stroke', '#000').attr('stroke-width', 2.3)
        .attr('stroke-dasharray', '2.3,3.4');

    // x axis
    var xAxis = g.append('g')
        .attr('transform', 'translate(0,' + bottom + ')')
        .call(d3.axisBottom(x).tickValues(xTicks).tickSize(5.7).tickPadding(4)
            .tickFormat(cfg.xLabels ? d3.format('d') : function() { return ''; }));
    xAxis.select('.domain').remove();
    xAxis.selectAll('text').attr('font-family', serif).attr('font-size', 23).attr('fill', '#000');

    // y axis major ticks
    var yAxis = g.append('g')
        .attr('transform', 'translate(' + left + ',0)')
        .call(d3.axisLeft(y).tickValues(cfg.exps.map(function(e) { return Math.pow(10, e); }))
            .tickSize(5.7).tickFormat(function() { return ''; }));
    yAxis.select('.domain').remove();

    if (cfg.minor) {
        var minor = [];
        for (var e = -3; e <= 0; e++) {
            for (var m = 2; m <= 9; m++) {
                var v = m * Math.pow(10, e);
                if (v >= cfg.domain[0] && v <= cfg.domain[1]) minor.push(v);
            }
        }
        var yMinor = g.append('g')
            .attr('transform', 'translate(' + left + ',0)')
            .call(d3.axisLeft(y).tickValues(minor).tickSize(3.3).tickFormat(function() { return ''; }));
        yMinor.select('.domain').remove();
        yMinor.selectAll('line').attr('stroke-width', 0.9);
    }
    g.selectAll('.tick line').attr('stroke', '#000');
    yAxis.selectAll('.tick line').attr('stroke-width', 1.1);
    xAxis.selectAll('.tick line').attr('stroke-width', 1.1);

    cfg.exps.forEach(function(e) {
        var t = g.append('text')
            .attr('x', 79)
            .attr('y', y(Math.pow(10, e)) + 9.5)
            .attr('text-anchor', 'end')
            .attr('font-family', serif)
            .attr('font-size', 25)
            .attr('fill', '#000');
        supText(t, e);
    });

    // frame
    g.append('rect')
        .attr('x', left).attr('y', top)
        .attr('width', right - left).attr('height', bottom - top)
        .attr('fill', 'none').attr('stroke', '#000').attr('stroke-width', 1.1);

    // y label
    g.append('text')
        .attr('transform', 'translate(26.5,' + ((top + bottom) / 2) + ') rotate(-90)')
        .attr('text-anchor', 'middle')
        .attr('font-family', sans)
        .attr('font-size', 19)
        .attr('fill', '#000')
        .text('rel. err.');

    // legend
    var L = cfg.legend;
    var lg = g.append('g');
    lg.append('rect')
        .attr('x', L.x).attr('y', L.y).attr('width', L.w).attr('height', L.h)
        .attr('rx', 4).attr('ry', 4)
        .attr('fill', '#fff').attr('fill-opacity', 0.8)
        .attr('stroke', '#cccccc').attr('stroke-width', 1);
    L.items.forEach(function(it, i) {
        var cy = L.y + L.h / 2;
        lg.append('line')
            .attr('x1', it.lx).attr('x2', it.lx + 48.4)
            .attr('y1', cy).attr('y2', cy)
            .attr('stroke', i === 0 ? blue : orange)
            .attr('stroke-width', 2);
        var t = lg.append('text')
            .attr('x', it.tx).attr('y', cy + 7.5)
            .attr('font-family', serif)
            .attr('font-size', 22)
            .attr('fill', '#000')
            .attr('textLength', it.tw)
            .attr('lengthAdjust', 'spacing');
        mathText(t, it.parts);
    });
}

var MINUS = ' \u2212 ';

drawPanel({
    id: 'top', top: 11.3, bottom: 334.3,
    domain: [0.00502, 10],
    exps: topExps, minor: true, xLabels: false,
    first: uErr, second: xiErr,
    legend: {
        x: 600, y: 281.7, w: 449.3, h: 41,
        items: [
            { lx: 608.3, tx: 675, tw: 127, parts: [['||', 0], ['u', 1], [MINUS, 0], ['u', 1], ['\u2032||/||', 0], ['u', 1], ['||', 0]] },
            { lx: 849.3, tx: 915, tw: 122, parts: [['||', 0], ['\u03be', 1], [MINUS, 0], ['\u03be', 1], ['\u2032||/||', 0], ['\u03be', 1], ['||', 0]] }
        ]
    }
});

drawPanel({
    id: 'bottom', top: 399, bottom: 721.7,
    domain: [1e-7, 300],
    exps: bottomExps, minor: false, xLabels: true,
    first: pErr, second: epsErr,
    legend: {
        x: 656.7, y: 668.3, w: 392.3, h: 41.7,
        items: [
            { lx: 665, tx: 731.7, tw: 110, parts: [['|', 0], ['P', 1], [MINUS, 0], ['P', 1], ['\u2032|/', 0], ['P', 1]] },
            { lx: 884, tx: 951.7, tw: 86, parts: [['|', 0], ['\u03b5', 1], [MINUS, 0], ['\u03b5', 1], ['\u2032|/', 0], ['\u03b5', 1]] }
        ]
    }
});

// x label
svg.append('text')
    .attr('x', 571)
    .attr('y', 773)
    .attr('text-anchor', 'middle')
    .attr('font-family', serif)
    .attr('font-style', 'italic')
    .attr('font-size', 24)
    .attr('fill', '#000')
    .text('t');
</script>
</body>
</html>
